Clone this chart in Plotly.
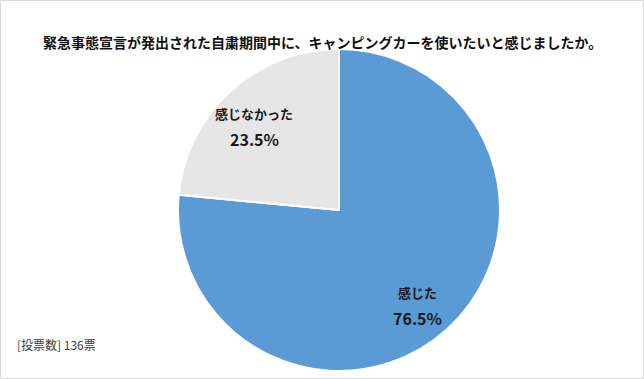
import plotly.graph_objects as go

labels = ["感じた", "感じなかった"]
values = [76.5, 23.5]
colors = ["#5B9BD5", "#E7E6E6"]
title_text = "緊急事態宣言が発出された自粛期間中に、キャンピングカーを使いたいと感じましたか。"
note_text = "[投票数] 136票"

W, H = 644, 379
cx, cy, r = 339, 210, 161

fig = go.Figure(go.Pie(
    labels=labels, values=values, sort=False, direction="clockwise", rotation=0,
    marker=dict(colors=colors, line=dict(color="white", width=2)),
    textinfo="none", hoverinfo="label+percent", showlegend=False,
    domain=dict(x=[(cx - r) / W, (cx + r) / W], y=[1 - (cy + r) / H, 1 - (cy - r) / H]),
))

font = "Noto Sans CJK JP, sans-serif"
label_pos = [(417, 292, 318), (254, 113, 139)]
for lab, val, (px, py1, py2) in zip(labels, values, label_pos):
    fig.add_annotation(x=px / W, y=1 - py1 / H, xref="paper", yref="paper",
                       xanchor="center", yanchor="middle",
                       text=f"<b>{lab}</b>", showarrow=False,
                       font=dict(family=font, size=13, color="#1a1a1a"))
    fig.add_annotation(x=px / W, y=1 - py2 / H, xref="paper", yref="paper",
                       xanchor="center", yanchor="middle",
                       text=f"<b>{val:.1f}%</b>", showarrow=False,
                       font=dict(family=font, size=16, color="#1a1a1a"))

fig.add_annotation(x=322 / W, y=1 - 30 / H, xref="paper", yref="paper",
                   text=f"<b>{title_text}</b>", showarrow=False,
                   font=dict(family=font, size=14, color="#111111"))
fig.add_annotation(x=15 / W, y=1 - 355 / H, xref="paper", yref="paper", xanchor="left",
                   text=note_text, showarrow=False,
                   font=dict(family=font, size=12, color="#404040"))

fig.add_shape(type="rect", xref="paper", yref="paper", x0=0.5 / W, y0=0.5 / H,
              x1=1 - 0.5 / W, y1=1 - 0.5 / H, line=dict(color="#D9D9D9", width=1))

fig.update_layout(width=W, height=H, margin=dict(l=0, r=0, t=0, b=0),
                  paper_bgcolor="white", plot_bgcolor="white")
fig.write_html("out.html", config={"displayModeBar": False},
               post_script="document.body.style.margin='0';")
